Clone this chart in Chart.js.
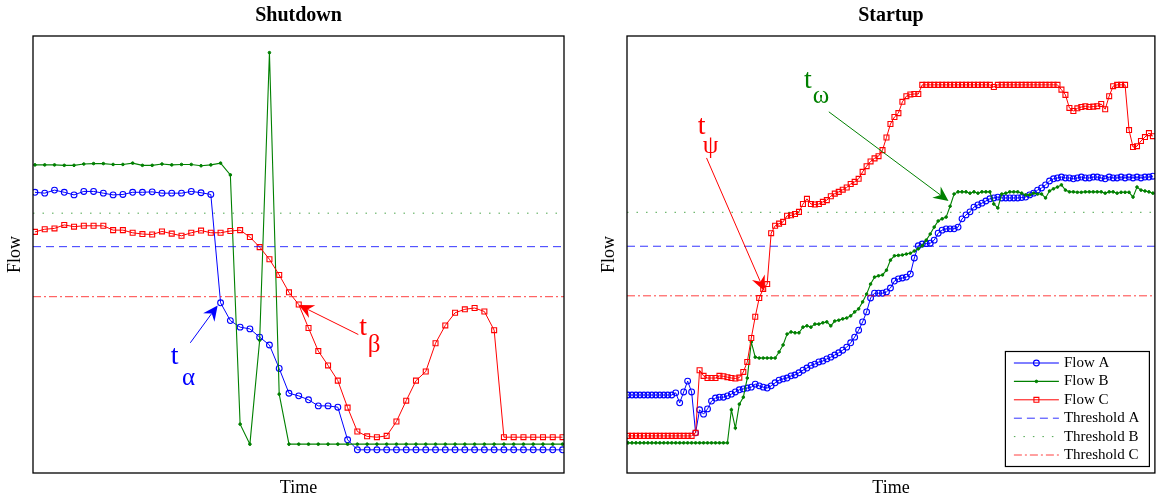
<!DOCTYPE html>
<html>
<head>
<meta charset="utf-8">
<script src="https://cdn.jsdelivr.net/npm/chart.js@4.4.1/dist/chart.umd.min.js"></script>
<style>
	body{margin:0;background:#fff;}
	#wrap{position:relative;width:1160px;height:496px;}
	.panel{position:absolute;top:0;width:580px;height:496px;}
</style>
</head>
<body>
<div id="wrap">
	<div class="panel" style="left:0px;"><canvas id="shutdownChart"></canvas></div>
	<div class="panel" style="left:580px;"><canvas id="startupChart"></canvas></div>
</div>
<script>
	// ---- data (flow in % of the axis height) ----
	var seriesNames = ["Flow A","Flow B","Flow C","Threshold A","Threshold B","Threshold C"];

	// Shutdown: one sample per time step
	var shutFlowA = [64.3,64.1,64.8,64.3,63.7,64.5,64.5,64.1,63.7,63.8,64.3,64.3,64.4,64.1,64.1,64.1,64.5,64.2,63.8,
		38.9,34.8,33.3,32.9,31.0,29.2,23.8,18.1,17.5,16.6,15.2,15.2,14.9,7.4,
		5.1,5.1,5.1,5.1,5.1,5.1,5.1,5.1,5.1,5.1,5.1,5.1,5.1,5.1,5.1,5.1,5.1,5.1,5.1,5.1,5.1,5.1];
	var shutFlowB = [70.6,70.6,70.6,70.5,70.5,70.8,70.9,70.9,70.7,70.7,71.0,70.5,70.5,70.8,70.6,70.7,70.7,70.4,70.6,71.0,
		68.3,11.0,6.4,30.3,96.4,17.9,
		6.4,6.4,6.4,6.4,6.4,6.4,6.4,6.4,6.4,6.4,6.4,6.4,6.4,6.4,6.4,6.4,6.4,6.4,6.4,6.4,6.4,6.4,6.4,6.4,6.4,6.4,6.4,6.4,6.4];
	var shutFlowC = [55.2,55.8,56.0,56.8,56.4,56.6,56.6,56.6,55.6,55.6,55.0,54.7,54.6,55.3,54.8,54.3,55.0,55.5,55.0,
		55.0,55.4,55.6,54.0,51.7,48.9,45.3,41.3,38.5,33.1,27.8,24.5,21.0,14.8,9.3,8.2,8.0,8.3,11.6,16.4,21.0,23.1,29.6,33.7,36.6,37.4,37.7,36.9,32.6,
		8.0,8.0,8.0,8.0,8.0,8.0,8.0];
	var shutThresholds = [51.8,59.5,40.3];

	// Startup: denser sampling
	var startFlowA = [17.7,17.7,17.7,17.7,17.7,17.7,17.7,17.7,17.7,17.7,17.7,17.7,
		18.2,15.9,18.4,20.9,18.4,
		9.0,14.3,13.3,14.5,16.3,
		17.0,17.2,17.2,17.5,17.9,18.4,18.9,19.1,19.3,19.5,
		20.2,19.8,19.5,19.3,19.8,20.5,21.1,21.4,21.6,22.1,
		22.3,22.8,23.4,23.9,24.5,24.8,25.3,25.5,26.0,26.4,
		26.9,27.4,28.0,28.7,29.7,31.0,32.6,34.5,36.8,40.0,
		41.1,41.1,41.1,41.4,42.3,43.9,44.4,44.6,44.8,45.5,
		49.2,52.0,52.4,52.5,52.6,53.3,54.9,55.6,55.9,55.9,
		55.9,56.3,58.2,59.1,59.8,60.9,61.4,61.8,62.3,62.8,
		63.0,63.2,63.0,63.0,63.0,63.0,63.0,63.1,63.2,63.7,
		64.1,64.8,65.3,66.0,66.9,67.4,67.6,67.8,67.6,67.6,
		67.4,67.6,67.8,67.6,67.6,67.8,67.8,67.6,67.4,67.8,
		67.6,67.6,67.8,67.6,67.8,67.6,67.8,67.6,67.8,67.8,68.0];
	var startFlowB = [6.7,6.7,6.7,6.7,6.7,6.7,6.7,6.7,6.7,6.7,6.7,6.7,6.7,6.7,6.7,6.7,6.7,6.7,6.7,6.7,6.7,6.7,6.7,6.7,6.7,6.7,
		14.3,10.1,15.6,17.2,21.6,29.9,
		26.4,26.2,26.2,26.2,26.2,26.2,27.6,29.2,31.7,32.2,
		32.0,32.0,33.3,33.6,33.3,34.0,34.0,34.3,34.5,33.6,
		34.7,34.9,35.2,35.4,35.9,36.8,37.5,39.1,40.9,43.2,
		44.8,45.1,45.3,46.4,48.7,49.7,49.8,49.9,50.1,50.3,
		50.8,51.3,52.0,53.3,54.7,56.3,57.7,58.2,58.6,61.1,
		63.9,64.4,64.4,64.4,64.1,64.4,64.1,64.4,64.4,64.4,
		61.6,60.7,63.9,64.1,64.4,64.4,64.4,64.1,63.7,63.7,
		64.1,63.9,63.9,63.0,64.6,65.1,65.5,66.0,64.8,64.4,
		64.4,64.3,64.3,64.4,64.4,64.4,64.4,64.4,64.1,64.4,
		64.4,64.1,64.3,64.3,64.3,63.2,65.5,64.8,64.6,64.4,64.1];
	var startFlowC = [8.3,8.3,8.3,8.3,8.3,8.3,8.3,8.3,8.3,8.3,8.3,8.3,8.3,8.3,8.3,8.3,8.3,
		9.0,23.4,22.1,21.6,21.6,
		21.6,22.1,22.0,21.8,21.6,21.5,21.7,23.0,25.3,30.8,
		35.7,40.0,42.1,43.2,54.9,56.6,57.1,57.5,58.9,59.0,
		59.3,59.8,61.6,62.8,61.6,61.5,61.6,62.1,62.5,63.4,
		64.0,64.4,64.9,65.4,66.2,66.7,67.4,69.0,70.3,71.4,
		72.1,72.6,74.0,76.9,80.0,81.6,82.5,85.1,86.4,86.8,
		86.9,86.9,89.0,89.0,89.0,89.0,89.0,89.0,89.0,89.0,
		89.0,89.0,89.0,89.0,89.0,89.0,89.0,89.0,89.0,89.0,
		88.5,89.0,89.0,89.0,89.0,89.0,89.0,89.0,89.0,89.0,
		89.0,89.0,89.0,89.0,89.0,89.0,89.0,87.9,86.7,83.7,
		83.0,83.6,83.9,84.1,83.9,84.0,84.1,84.6,83.4,86.4,
		88.7,89.0,89.0,89.0,78.6,74.7,74.9,76.1,77.0,77.9,77.2];
	var startThresholds = [51.9,59.7,40.5];

	// annotation labels: text anchor, arrow tail and head, all in data units
	var shutMarks = [
		{sub:"α",color:"#0000ff",at:[14.3,26.6],subOff:[14,22],from:[15.9,29.7],to:[18.7,38.3]},
		{sub:"β",color:"#ff0000",at:[33.6,33.3],subOff:[11,18],from:[33.1,31.6],to:[27.0,38.4]}
	];
	var startMarks = [
		{sub:"ψ",color:"#ff0000",at:[18.5,79.5],subOff:[9,20],from:[19.75,72.2],to:[34.3,41.6]},
		{sub:"ω",color:"#008000",at:[45.25,89.9],subOff:[13,16],from:[50.5,82.8],to:[80.6,62.3]}
	];

	var SERIF = '"Liberation Serif","DejaVu Serif",serif';

	function toPoints(arr){
		return arr.map(function(v,i){return {x:i,y:v};});
	}
	function flatLine(v,xmin,xmax){
		return [{x:xmin,y:v},{x:xmax,y:v}];
	}
	function buildDatasets(a,b,c,th,xmin,xmax){
		return [
			{label:seriesNames[0],data:toPoints(a),borderColor:"#0000ff",backgroundColor:"rgba(0,0,0,0)",borderWidth:1,
				pointStyle:"circle",pointRadius:2.9,pointBorderWidth:1.1,pointBackgroundColor:"rgba(0,0,0,0)",order:6},
			{label:seriesNames[1],data:toPoints(b),borderColor:"#008000",backgroundColor:"#008000",borderWidth:1.1,
				pointStyle:"circle",pointRadius:1.3,pointBorderWidth:1,pointBackgroundColor:"#008000",order:5},
			{label:seriesNames[2],data:toPoints(c),borderColor:"#ff0000",backgroundColor:"rgba(0,0,0,0)",borderWidth:1,
				pointStyle:"rect",pointRadius:3.5,pointBorderWidth:1.1,pointBackgroundColor:"rgba(0,0,0,0)",order:4},
			{label:seriesNames[3],data:flatLine(th[0],xmin,xmax),borderColor:"rgba(0,0,255,0.8)",borderWidth:1,borderDash:[8,5],pointRadius:0,order:3},
			{label:seriesNames[4],data:flatLine(th[1],xmin,xmax),borderColor:"rgba(0,128,0,0.7)",borderWidth:1,borderDash:[1.5,8],pointRadius:0,order:2},
			{label:seriesNames[5],data:flatLine(th[2],xmin,xmax),borderColor:"rgba(255,0,0,0.75)",borderWidth:1,borderDash:[8,3,2,3],pointRadius:0,order:1}
		];
	}

	function drawArrow(ctx,x1,y1,x2,y2,color){
		var ang = Math.atan2(y2-y1,x2-x1), L = 15, W = 7, N = 10;
		var cx = Math.cos(ang), cy = Math.sin(ang);
		ctx.strokeStyle = color; ctx.fillStyle = color; ctx.lineWidth = 1;
		ctx.beginPath(); ctx.moveTo(x1,y1); ctx.lineTo(x2-cx*N,y2-cy*N); ctx.stroke();
		var bx = x2-cx*L, by = y2-cy*L;
		ctx.beginPath();
		ctx.moveTo(x2,y2);
		ctx.lineTo(bx-cy*W,by+cx*W);
		ctx.lineTo(x2-cx*N,y2-cy*N);
		ctx.lineTo(bx+cy*W,by-cx*W);
		ctx.closePath(); ctx.fill();
	}

	function drawMarker(ctx,ds,x,y){
		var r = ds.pointRadius;
		ctx.lineWidth = ds.pointBorderWidth; ctx.strokeStyle = ds.borderColor; ctx.fillStyle = ds.pointBackgroundColor;
		ctx.beginPath();
		if(ds.pointStyle == "rect"){
			var s = Math.SQRT1_2*r;
			ctx.rect(x-s,y-s,2*s,2*s);
		}else{
			ctx.arc(x,y,r,0,Math.PI*2);
		}
		ctx.fill(); ctx.stroke();
	}

	function drawLegend(chart){
		var ctx = chart.ctx, a = chart.chartArea;
		var w = 144, h = 115, right = a.right-6, bottom = a.bottom-7;
		var left = right-w, top = bottom-h;
		ctx.fillStyle = "#fff"; ctx.fillRect(left,top,w,h);
		ctx.strokeStyle = "#000"; ctx.lineWidth = 1.2; ctx.strokeRect(left+0.5,top+0.5,w,h);
		chart.data.datasets.forEach(function(ds,i){
			var y = top+12+i*18.4;
			ctx.save();
			ctx.strokeStyle = ds.borderColor; ctx.lineWidth = ds.borderWidth;
			ctx.setLineDash(ds.borderDash || []);
			ctx.beginPath(); ctx.moveTo(left+9,y); ctx.lineTo(left+54,y); ctx.stroke();
			ctx.setLineDash([]);
			if(ds.pointRadius > 0){ drawMarker(ctx,ds,left+31.5,y); }
			ctx.fillStyle = "#000"; ctx.font = "15px "+SERIF; ctx.textAlign = "left"; ctx.textBaseline = "middle";
			ctx.fillText(ds.label,left+59,y);
			ctx.restore();
		});
	}

	var figureDeco = {
		id:"figureDeco",
		afterDraw:function(chart,args,opts){
			var ctx = chart.ctx, a = chart.chartArea, xs = chart.scales.x, ys = chart.scales.y;
			ctx.save();
			ctx.strokeStyle = "#000"; ctx.lineWidth = 1.3;
			ctx.strokeRect(a.left,a.top,a.right-a.left,a.bottom-a.top);
			ctx.fillStyle = "#000"; ctx.textAlign = "center"; ctx.textBaseline = "middle";
			ctx.font = "bold 20px "+SERIF;
			ctx.fillText(opts.title,(a.left+a.right)/2,a.top-20);
			ctx.font = "18px "+SERIF;
			ctx.fillText("Time",(a.left+a.right)/2,a.bottom+15);
			ctx.save();
			ctx.translate(a.left-18,(a.top+a.bottom)/2); ctx.rotate(-Math.PI/2);
			ctx.fillText("Flow",0,0);
			ctx.restore();
			opts.marks.forEach(function(m){
				var tx = xs.getPixelForValue(m.at[0]), ty = ys.getPixelForValue(m.at[1]);
				ctx.fillStyle = m.color;
				ctx.font = "28px "+SERIF;
				ctx.fillText("t",tx,ty);
				ctx.font = "25px "+SERIF;
				ctx.fillText(m.sub,tx+m.subOff[0],ty+m.subOff[1]);
				drawArrow(ctx,xs.getPixelForValue(m.from[0]),ys.getPixelForValue(m.from[1]),
					xs.getPixelForValue(m.to[0]),ys.getPixelForValue(m.to[1]),m.color);
			});
			if(opts.legend){ drawLegend(chart); }
			ctx.restore();
		}
	};

	function makeChart(id,title,a,b,c,th,marks,xmin,xmax,padLeft,padRight,legend){
		return new Chart(document.getElementById(id),{
			type:"line",
			data:{datasets:buildDatasets(a,b,c,th,xmin,xmax)},
			options:{
				responsive:true,maintainAspectRatio:false,animation:false,
				layout:{padding:{left:padLeft,right:padRight,top:36,bottom:23}},
				elements:{line:{tension:0}},
				scales:{
					x:{type:"linear",display:false,min:xmin,max:xmax},
					y:{type:"linear",display:false,min:-0.23,max:100.23}
				},
				plugins:{
					legend:{display:false},
					tooltip:{enabled:false},
					figureDeco:{title:title,marks:marks,legend:legend}
				}
			},
			plugins:[figureDeco]
		});
	}

	makeChart("shutdownChart","Shutdown",shutFlowA,shutFlowB,shutFlowC,shutThresholds,shutMarks,-0.2,54.15,33,16,false);
	makeChart("startupChart","Startup",startFlowA,startFlowB,startFlowC,startThresholds,startMarks,-0.25,132.5,47,2,true);
</script>
</body>
</html>
